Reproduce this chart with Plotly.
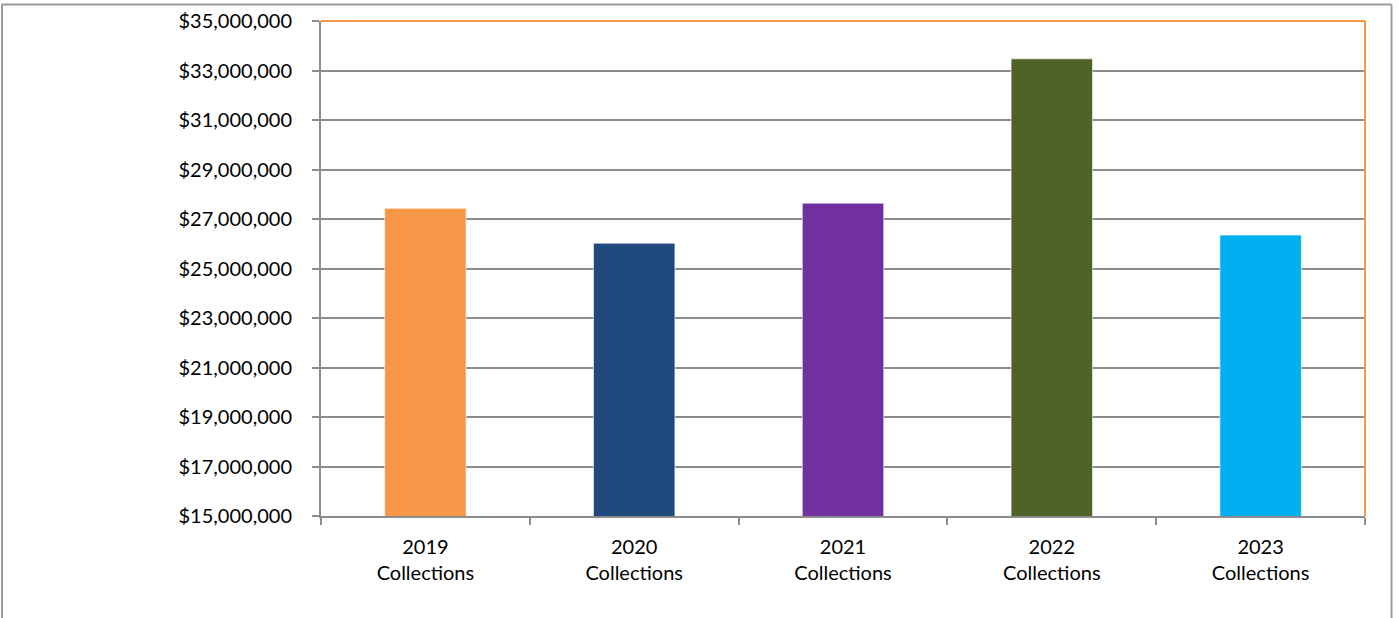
import plotly.graph_objects as go

categories = ["2019<br>Collections", "2020<br>Collections", "2021<br>Collections",
              "2022<br>Collections", "2023<br>Collections"]
values = [27430000, 26020000, 27640000, 33470000, 26350000]
colors = ["#F79646", "#1F497D", "#7030A0", "#4F6228", "#00B0F0"]

W, H = 1398, 618
L, R, T, B = 321, 33, 21, 102
pw, ph = W - L - R, H - T - B

def px_x(x):
    return (x - L) / pw

def px_y(y):
    return (H - B - y) / ph

fig = go.Figure()
fig.add_trace(go.Bar(
    x=categories, y=values, width=0.39,
    marker=dict(color=colors, line=dict(color="rgba(255,255,255,0.6)", width=1)),
    hoverinfo="x+y",
))

font = dict(family="Lato", size=20, color="#000000")

fig.update_layout(
    width=W, height=H,
    margin=dict(l=L, r=R, t=T, b=B, pad=0, autoexpand=False),
    paper_bgcolor="white", plot_bgcolor="white",
    showlegend=False, font=font,
    xaxis=dict(
        automargin=False,
        showline=True, linecolor="#8C8C8C", linewidth=2,
        ticks="outside", tickson="boundaries", ticklen=7, tickwidth=2, tickcolor="#8C8C8C",
        showgrid=False, tickfont=font, ticklabelstandoff=12,
    ),
    yaxis=dict(
        automargin=False,
        range=[15000000, 35000000], dtick=2000000, tick0=15000000,
        tickformat="$,.0f",
        showline=True, linecolor="#8C8C8C", linewidth=2,
        ticks="outside", ticklen=7, tickwidth=2, tickcolor="#8C8C8C",
        showgrid=True, gridcolor="#8C8C8C", gridwidth=2,
        zeroline=False, tickfont=font, ticklabelstandoff=16,
    ),
    shapes=[
        dict(type="line", xref="paper", yref="paper", x0=0, x1=1, y0=1, y1=1,
             line=dict(color="#F79646", width=2), layer="above"),
        dict(type="line", xref="paper", yref="paper", x0=1, x1=1, y0=0, y1=1,
             line=dict(color="#F79646", width=2), layer="above"),
        dict(type="line", xref="paper", yref="paper", x0=px_x(2), x1=px_x(2),
             y0=px_y(4.5), y1=px_y(625), line=dict(color="#9A9A9A", width=2)),
        dict(type="line", xref="paper", yref="paper", x0=px_x(1.5), x1=px_x(1391.5),
             y0=px_y(4.5), y1=px_y(4.5), line=dict(color="#9A9A9A", width=2)),
        dict(type="line", xref="paper", yref="paper", x0=px_x(1391.5), x1=px_x(1391.5),
             y0=px_y(4.5), y1=px_y(625), line=dict(color="#9A9A9A", width=2)),
    ],
)

fig.write_html("out.html", config={"displayModeBar": False},
               post_script="document.body.style.margin='0';document.body.style.overflow='hidden';")
